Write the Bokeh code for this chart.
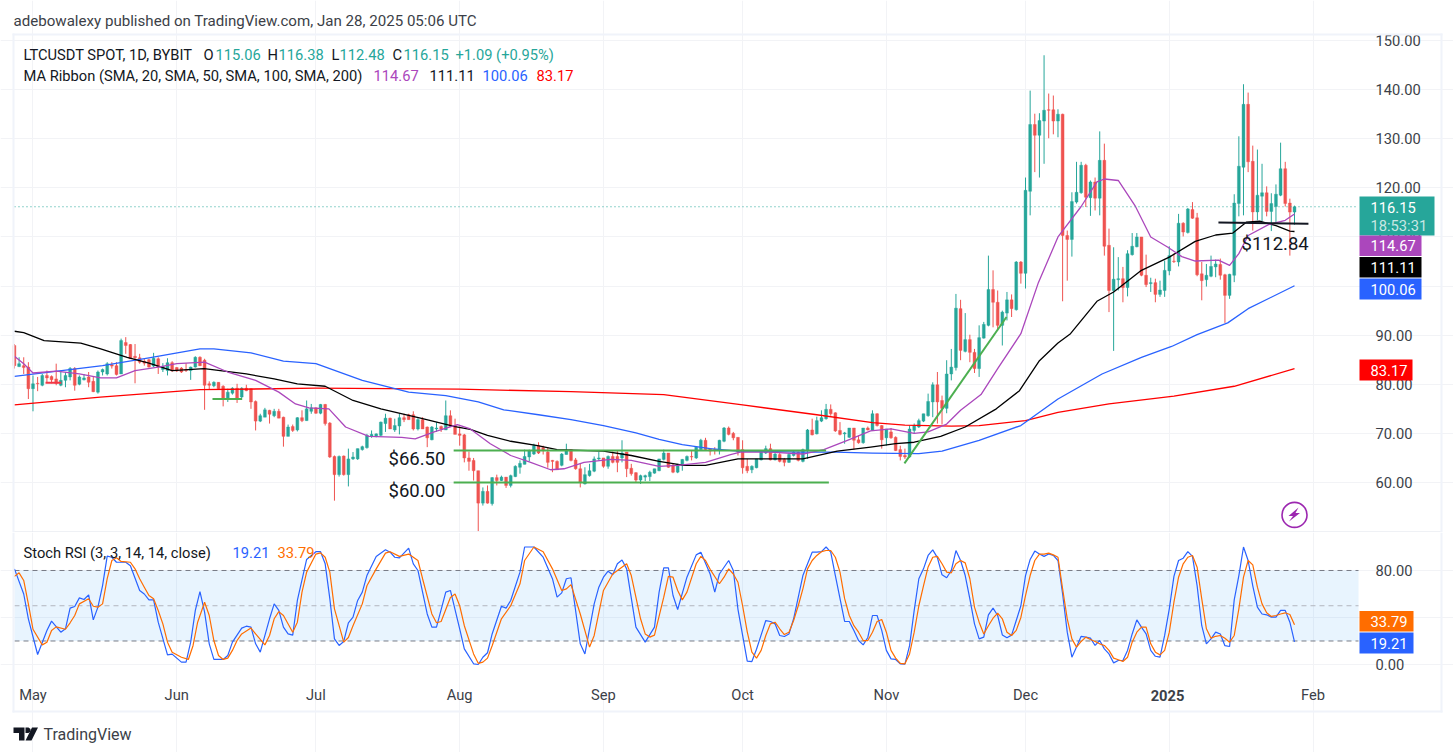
from bokeh.embed import file_html
from bokeh.layouts import column
from bokeh.models import BoxAnnotation, ColumnDataSource, FixedTicker, Label, PolyAnnotation, Range1d
from bokeh.plotting import figure
from bokeh.resources import INLINE

FIRST_DAY = -4  # days relative to 1 May 2024
opens = [
87.9,83.6,83.8,83.5,79.1,80.2,79.8,81.8,81.6,81.1,
79.8,80.8,81.5,83.2,80.0,80.9,81.5,80.6,78.4,82.5,
82.1,84.0,83.8,82.1,88.5,88.1,85.7,85.4,84.7,85.0,
83.7,85.2,83.0,82.8,84.4,83.4,83.3,83.0,82.8,83.5,
85.5,84.9,80.1,79.7,80.4,79.6,77.0,78.2,79.2,77.4,
79.2,79.1,76.5,72.5,73.3,74.7,73.6,74.5,73.3,69.4,
71.4,70.7,73.2,72.6,74.5,75.2,74.1,75.9,72.1,65.3,
61.6,65.4,61.6,64.8,64.8,66.7,67.1,69.4,69.4,69.6,
72.0,73.1,70.7,71.5,73.2,73.8,73.8,70.9,72.8,71.3,
68.7,70.9,71.4,70.7,73.6,71.6,69.9,69.7,65.0,64.5,
62.4,55.8,58.2,55.7,61.0,60.4,61.1,59.4,61.2,63.1,
63.7,65.2,65.8,67.5,67.1,66.2,64.5,64.3,63.5,65.7,
66.7,64.6,62.8,59.7,61.4,62.3,64.8,65.0,63.3,65.3,
65.3,65.0,66.2,62.9,62.0,60.5,61.1,61.2,61.9,62.4,
64.7,66.0,63.5,62.1,63.5,64.5,65.3,65.0,66.7,68.6,
66.9,66.7,66.5,68.4,71.1,70.0,69.2,66.7,63.3,62.6,
63.0,64.6,66.0,66.9,64.6,65.7,64.7,64.1,65.5,66.2,
64.3,66.5,70.7,69.9,72.5,73.0,74.9,74.2,70.6,69.9,
69.2,71.1,68.7,68.1,71.1,70.6,74.0,71.6,69.1,70.3,
69.2,66.7,65.5,65.2,70.6,71.3,72.5,73.6,76.4,79.9,
76.7,75.1,82.1,83.4,95.4,86.7,89.1,86.5,83.2,89.4,
92.0,99.3,96.7,92.0,94.5,97.2,95.2,104.9,102.6,119.3,
132.9,130.7,133.6,135.9,135.9,133.6,135.0,110.3,109.5,117.1,
119.0,124.6,118.0,121.2,117.9,125.6,108.3,99.1,101.3,101.5,
99.7,106.4,108.0,110.0,102.2,100.5,100.7,98.3,99.1,103.1,
105.1,104.9,112.8,110.9,115.6,113.9,102.5,101.3,102.0,103.9,
104.4,102.3,98.1,102.2,116.8,124.2,137.0,125.4,115.1,118.3,
119.0,115.2,116.2,118.5,123.9,116.9,115.06]
highs = [
88.2,85.5,85.5,84.5,81.8,81.5,82.1,82.8,81.8,84.2,
82.8,82.5,83.5,83.5,81.8,82.1,82.5,81.5,82.8,83.2,
84.5,84.5,84.5,89.3,89.6,88.2,88.2,86.2,85.2,85.2,
86.4,85.5,84.3,85.3,84.7,83.5,83.5,84.3,83.6,85.7,
85.7,85.2,80.6,80.6,80.4,79.8,79.1,79.4,80.1,79.4,
79.9,79.1,76.7,74.0,75.2,74.8,75.0,75.0,73.4,71.8,
71.8,73.3,74.7,76.7,76.0,75.3,76.0,76.0,72.3,65.5,
65.5,65.5,66.9,66.2,66.9,67.5,69.9,70.6,70.0,72.4,
74.0,73.2,73.0,74.0,74.0,74.0,74.5,73.1,73.3,71.4,
71.5,72.3,71.6,76.7,74.7,73.0,71.4,69.9,66.3,65.0,
62.4,59.0,59.4,61.1,61.6,61.4,61.1,61.6,63.5,64.5,
66.7,66.7,67.9,68.2,67.5,67.2,64.6,64.5,66.0,67.9,
66.7,65.0,63.8,63.1,63.8,65.3,66.2,65.0,65.5,66.3,
66.5,68.6,66.2,63.8,62.1,61.6,61.6,62.4,62.8,64.8,
66.7,66.0,63.8,63.8,64.8,65.5,66.4,67.2,68.9,69.1,
67.0,67.2,68.7,71.3,71.4,70.3,69.2,68.6,64.8,63.5,
64.8,66.2,67.5,67.9,66.0,66.0,65.0,66.0,66.5,66.3,
66.9,70.9,73.0,73.4,74.7,76.0,75.9,74.3,72.3,70.3,
71.1,71.1,69.6,71.1,71.4,74.7,74.1,71.7,70.9,71.1,
69.4,67.5,66.9,71.6,72.0,73.0,74.0,78.1,80.4,82.5,
77.7,84.9,87.2,98.4,97.2,94.5,90.1,87.2,92.0,92.7,
106.2,103.2,99.1,95.0,98.8,98.3,105.1,105.1,122.1,139.8,
135.1,135.2,147.0,139.2,138.8,136.0,135.1,111.3,119.1,125.3,
125.3,124.9,121.5,122.1,131.5,129.0,111.7,107.9,105.9,103.9,
107.3,110.8,110.8,110.0,106.4,101.7,101.5,101.1,105.2,108.1,
106.6,114.7,113.0,115.9,117.1,114.9,104.9,104.5,106.2,105.4,
105.6,102.5,102.5,118.7,130.5,141.1,139.4,128.6,127.8,124.9,
120.3,118.9,120.7,129.2,125.3,117.8,116.38]
lows = [
83.2,83.5,82.1,77.0,74.5,78.6,79.6,80.4,80.2,79.8,
79.6,79.4,80.8,78.7,79.8,80.8,79.4,78.4,78.1,81.8,
81.8,83.2,81.8,82.1,86.2,85.2,80.2,84.2,83.8,83.4,
83.5,82.1,82.5,81.8,82.5,82.5,82.3,82.5,80.9,83.4,
83.7,74.8,78.9,79.4,79.0,75.5,76.4,77.9,76.2,77.2,
78.6,75.0,70.6,72.3,73.3,72.0,73.3,73.1,67.3,69.4,
70.3,70.4,72.3,72.6,74.0,74.0,73.9,71.6,65.0,56.3,
61.2,61.4,59.2,64.6,64.6,66.5,66.9,69.1,69.2,69.4,
70.3,70.9,70.3,69.8,72.3,72.8,70.6,70.6,70.9,67.2,
68.6,70.3,70.3,70.7,71.3,69.8,67.5,64.1,62.4,60.4,
50.1,55.3,55.7,55.3,59.4,60.3,58.9,59.0,61.1,61.8,
63.7,64.3,65.6,65.8,65.7,63.0,62.1,62.6,63.3,65.7,
64.3,62.6,59.0,59.6,61.2,62.1,64.5,63.0,62.8,63.9,
62.1,64.1,61.1,61.4,60.1,59.7,60.3,60.3,61.8,62.3,
64.5,63.0,61.9,61.9,62.4,64.3,64.5,64.8,66.5,66.5,
65.5,65.7,65.7,68.2,69.6,68.6,65.5,61.8,61.9,61.9,
62.9,64.5,65.8,64.5,64.5,64.1,63.3,64.0,65.3,64.3,
64.1,64.8,69.6,69.8,72.3,72.8,73.6,70.3,69.6,67.9,
69.1,66.7,67.9,67.9,70.6,70.5,71.4,66.9,67.5,68.9,
66.4,64.5,64.8,65.0,69.9,71.1,72.3,73.4,73.3,72.0,
71.8,74.1,80.8,82.8,84.9,86.5,84.5,82.3,81.5,89.3,
91.8,91.6,91.0,87.9,93.0,93.7,95.0,100.5,99.5,114.4,
123.2,122.1,124.9,130.1,130.9,130.3,96.9,101.1,106.0,116.8,
118.8,116.1,114.3,115.4,114.4,106.2,94.7,86.8,99.1,96.7,
97.9,106.2,107.9,102.0,99.8,98.8,96.7,97.8,97.8,102.2,
104.7,104.0,110.1,110.7,113.7,102.0,97.1,99.9,101.8,101.8,
101.3,92.5,97.4,100.8,114.2,114.4,123.2,111.3,113.4,113.2,
114.2,111.2,112.7,118.3,116.2,106.2,112.48]
closes = [
83.8,84.2,83.4,79.1,80.1,80.1,81.8,81.3,80.9,80.2,
80.8,81.8,83.2,79.8,81.5,81.3,80.4,78.5,82.5,83.0,
84.2,83.7,82.0,88.9,87.9,85.2,85.4,84.5,84.3,83.5,
85.3,83.5,83.6,84.4,82.8,82.7,82.5,82.8,83.5,85.5,
83.8,79.8,79.8,80.4,79.1,76.9,78.4,79.2,77.2,79.2,
78.7,76.4,72.5,73.6,74.8,73.9,74.5,73.1,69.4,71.3,
70.6,73.2,72.6,75.0,75.2,74.1,75.9,72.0,65.2,61.6,
65.3,61.6,64.8,65.2,66.9,67.3,69.6,69.8,69.9,72.3,
73.1,70.9,71.6,73.2,72.8,72.8,70.9,72.8,70.9,69.1,
71.3,71.1,70.9,73.6,71.4,69.8,69.6,65.0,64.3,62.4,
55.8,58.2,55.8,61.0,60.4,61.1,59.4,61.4,63.3,63.9,
65.3,66.5,67.5,66.0,66.5,64.1,64.3,62.6,65.8,66.5,
64.5,62.8,60.1,61.6,62.4,64.8,65.0,63.3,65.3,64.1,
64.1,66.0,62.8,61.8,60.5,61.4,61.4,62.1,62.8,64.8,
66.0,63.1,62.1,63.7,64.7,65.3,65.2,67.2,68.6,66.7,
66.4,66.5,68.6,71.1,69.8,69.1,66.2,63.0,62.4,63.3,
64.8,66.2,66.9,64.6,65.8,64.3,64.1,65.7,66.2,64.5,
66.7,70.7,69.7,72.6,73.2,74.9,74.0,70.5,69.8,70.1,
71.1,68.6,68.1,71.1,70.7,74.0,71.6,68.7,70.9,69.1,
66.5,65.3,65.2,70.9,71.6,72.6,74.0,76.5,79.9,76.4,
75.1,82.1,83.5,95.5,86.9,89.1,86.5,83.2,89.5,92.2,
99.3,96.7,92.0,94.7,97.2,95.4,104.9,102.6,119.5,132.9,
130.7,133.7,135.8,135.8,133.6,135.0,110.3,109.5,117.2,119.1,
124.6,118.1,121.2,117.9,125.6,108.1,99.1,101.4,101.5,99.7,
106.6,108.1,110.0,102.2,100.3,100.7,98.3,99.2,103.2,106.2,
105.0,112.8,111.0,115.7,113.8,102.3,101.1,102.2,104.0,104.5,
102.2,98.1,102.4,116.9,124.4,137.0,125.3,115.1,118.5,119.0,
115.2,116.8,118.7,123.9,116.8,115.06,116.15]

sma20 = [(-4,85.7),(-2,84.2),(0,82.3),(5,82.7),(10,82.1),(14.6,81.3),(18,81.3),(22,82.8),(27,83.5),(31,84.2),(37,84.5),(42,82.5),(48,80.8),(53,78.4),(56.6,76),(59.5,75.2),(63.8,75),(67.4,71.3),(72.4,69.4),(79.5,69.2),(82.4,68.9),(86.5,70.3),(91.5,71.8),(94.3,70.9),(98.6,67.9),(103,65.5),(107.3,64.1),(111.6,62.6),(114.5,62.8),(118.8,64.1),(124.6,64.7),(129,64.5),(135,63.3),(139,63.5),(145,64.1),(150.4,65.7),(152.5,66.2),(159,66.2),(166,65.8),(170.5,66.7),(175.6,68.6),(180.6,70.5),(185,70.9),(190,70),(193,70.3),(197,71.9),(200,74.7),(204.4,77.9),(208,83.2),(213,90.3),(216.7,100.5),(221,110),(226,116.2),(229.4,121.2),(231,121.8),(234,121.5),(237.6,116.4),(241,110),(244.7,107.9),(247.7,106),(250.6,105.1),(255.6,105.3),(258,104.2),(260,106.6),(262,110.3),(266.4,112.5),(270,113.4),(272,114.67)]
sma50 = [(-4,90.8),(-2,90.5),(2.4,88.9),(10.3,88.4),(14.6,87.2),(20.3,85.5),(25,84.3),(30,82.8),(36.9,83.2),(46,82.1),(52,81.1),(57,80.1),(63,79.6),(69,76.7),(75,75),(84,73),(91,71.4),(94.3,70.8),(98,69.6),(103,68.4),(108.8,67.5),(113,66.7),(123,66.4),(129,65.5),(135,64.3),(140.4,63.5),(145,63.5),(152,64.8),(157.7,64.8),(166,64.8),(173.4,66.4),(180.6,67.2),(186,67.9),(190,68.2),(195.7,69.4),(201,71.3),(207.7,75),(212.7,78.7),(217,84.8),(221,88.4),(223.7,90.3),(229.4,96.9),(233,98.8),(239,103.2),(245,105.9),(250.6,109.1),(255,110.4),(258.7,110.8),(261.6,113),(264.5,113.2),(268,112.3),(271,111.2),(272,111.11)]
sma100 = [(-4,81.6),(15,83.8),(25,85.4),(36,87.2),(39,87.2),(47,86.4),(54,84.7),(61,84.2),(71,80.8),(81,78.4),(89,77.7),(96,76.4),(101.5,74.8),(109,73.8),(116,72.8),(123,71.6),(130,70.1),(135,68.8),(140,67.7),(146,66.9),(152,66.4),(166,66.2),(173,66.2),(181,66),(191,65.9),(196,66.4),(204,68.6),(213,71.6),(221,77),(230.5,82.1),(239,85.5),(245.5,87.7),(251,90.1),(257.6,92.5),(262,95.4),(272,100.06)]
sma200 = [(-4,75.8),(14.5,77.4),(36,78.9),(61,79.2),(92,79.0),(116,78.5),(136,77.9),(153,75.8),(169,73.8),(181,72.2),(188,71.7),(198,71.5),(204,71.6),(214,72.6),(221,74.3),(232,76),(246,77.6),(259,79.6),(272,83.17)]

stoch_k = [(-4,81.4),(-2,60),(-1,38.9),(1,8.5),(3,29),(4,36.9),(6,27.5),(7,30.4),(8,48),(9,49.4),(10,56.7),(11,55.3),(12,59.3),(13,38),(14,48.8),(15,67.2),(16,92.2),(17,91.3),(18,87),(20,87),(21,84),(23,63),(24,60),(25,55),(26,55),(27,36),(29,8.2),(30,8.8),(32,2),(33,2),(34,19),(35,46),(36,62),(37,44.5),(38,17.6),(39,4.3),(41,4.3),(42,7.7),(43,19),(45,31),(46,32.6),(47,31.8),(48,17.6),(49,10.5),(51,38.9),(52,51.6),(53,46),(54,31.8),(55,26),(56,25),(57,54.5),(59,89.4),(61,96),(62,96),(63,85.7),(64,56),(65,21.8),(66,16.2),(67,19.6),(68,35.5),(69,40.3),(70,54.5),(71,61.6),(72,75.7),(74,92),(76,97.6),(77,95.6),(78,91.3),(79,90.8),(81,99),(82,85.7),(83,80),(85,43),(86,31.8),(87,31.8),(89,61.6),(90,63),(92,30.4),(93,13.3),(95,0.6),(96,0),(97,6.2),(98,10),(99,26),(101,49.6),(102,48),(103,54.5),(105,78.6),(106,100),(108,100),(110,91.3),(112,73),(113,57.3),(114,61),(115,73),(116,73.8),(118,17.6),(119,9),(121,51.6),(122,65.8),(123,74.3),(124,79.4),(125,76.3),(126,85.7),(127,89),(128,81.4),(130,31.8),(132,19),(134,31.8),(135,61.6),(136,82.3),(137,82.3),(138,58.7),(139,46.8),(141,74.3),(143,93.3),(144,95.6),(146,77),(147,61.6),(148,77),(150,88.5),(151,80),(152,47),(154,2.8),(155,2.5),(156,13),(158,37.4),(159,36.6),(160,34.6),(161,24.7),(162,23.8),(163,26),(164,38.9),(166,75.7),(168,95.6),(169,95.6),(170,96),(171,100),(172,95.6),(173,75.7),(175,36.6),(176,36.6),(177,29),(178,20.4),(179,16.7),(180,23),(181,41.7),(182,41.7),(183,29),(184,12),(185,4.8),(186,4.3),(187,0.6),(188,0.3),(189,16),(190,46),(191,73),(192,81.4),(193,92.8),(194,97.6),(195,91),(196,76.3),(197,73.8),(198,80),(199,97),(200,88.5),(201,75.7),(202,55.9),(203,34.6),(204,21.8),(205,23.3),(206,42.3),(207,48),(208,41.7),(209,25.2),(210,22.7),(211,25),(212,37.4),(213,50),(214,75.7),(215,89.4),(216,96.5),(217,94),(218,92),(219,94),(220,92.8),(221,88.5),(222,60),(223,27.5),(224,6.2),(225,14.8),(226,24),(227,23.3),(228,22.4),(229,16.2),(230,20.4),(231,13.3),(232,9),(233,1.4),(234,3.4),(235,3.4),(236,12),(237,26),(238,38),(239,31.8),(240,26),(241,12),(242,7),(243,6.2),(244,24.7),(245,47.4),(246,75),(247,88.5),(248,90.5),(249,96),(250,92),(251,67),(252,33),(253,17.6),(254,21.8),(255,27.5),(256,26),(257,16),(258,15.3),(259,55),(260,75.7),(261,100),(262,88.5),(263,67),(264,48.8),(265,43),(266,42.3),(267,40.3),(268,40.3),(269,46),(270,46),(271,36),(272,19.21)]
stoch_d = [(-4,75),(-3,78),(-2,71.5),(-1,51.6),(0,30),(2,16.7),(3,19),(4,29),(5,32),(7,30),(8,35.5),(9,41.7),(10,51.6),(12,56),(13,49.6),(14,48.8),(15,51.6),(16,73),(17,88.5),(18,90.8),(19,87.7),(21,87),(22,81.4),(23,73),(24,65.8),(25,58.7),(26,56),(27,46),(28,34.6),(29,19),(30,10.5),(32,6.2),(33.5,4.3),(34.5,16),(35.5,36),(37,53),(38,41.7),(39,20.4),(40,7.7),(41,4.3),(42,5.4),(43,12),(44,20.4),(45,26),(47,31),(48,26),(50,16.7),(51,24.7),(52,38.9),(53,45),(54,41.7),(56,27.5),(57,36),(58,61.6),(59,78.6),(61,94),(62,95),(63,91.3),(64,78.6),(65,47.4),(67,19),(68,23),(69,33),(71,51.6),(72,67),(74,81.4),(76,94.8),(77,96),(79,92),(81,94),(83,88.5),(84,73),(86,43),(87,35.5),(88,36.6),(90,57),(91,60),(92,50),(93,33),(95,9),(96,1),(97,2),(98,5.4),(99,16),(101,38.9),(103,50),(105,68.7),(106,88.5),(108,100),(110,96),(112,81.4),(114,63),(115,64.4),(116,68),(118,43),(120,14.8),(121,24.7),(123,63),(125,77),(128,85.7),(129,75.7),(131,38.9),(132,26),(133,23.3),(134,25),(136,57.3),(137,75),(138,74.3),(139,63),(140,55),(141,61.6),(143,85.7),(144,92),(145,88.5),(146,81),(148,68.7),(149,74.3),(150,81.4),(151,77),(152,70),(153,50),(154,27.8),(155,10.5),(156,5.4),(157,12),(158,24.7),(159,34.6),(160,36),(161,30.4),(162,25.5),(163,27.5),(164,37.4),(165,50),(166,64.4),(167,81.4),(168,88.5),(169,92.8),(170,96),(171,97),(172,97),(173,91.3),(174,78.6),(175,56),(176,41.7),(177,33),(178,27.5),(179,20.4),(180,20.4),(181,27.5),(182,36.6),(183,38.3),(184,27.5),(185,12),(186,5.4),(187,1),(188,0.6),(189,9),(190,27.5),(191,50),(192,67),(193,83),(194,91.3),(195,92),(196,85.7),(197,78.6),(198,78),(199,85.7),(200,88.5),(201,86.5),(202,73),(203,48.8),(204,36),(205,26),(206,33),(207,39.4),(208,43.7),(209,38.9),(210,27.5),(211,24.7),(212,29),(213,40),(214,58.7),(215,75.7),(216,88.5),(217,94),(218,94),(219,94.8),(220,93.3),(221,91.3),(222,64.4),(223,38.9),(224,21.8),(225,14.8),(226,19.6),(227,23.3),(228,21.3),(229,19.6),(230,17.6),(231,16.2),(232,12),(233,5.4),(234,4),(235,2.6),(236,6.2),(237,19),(238,27.5),(239,31.8),(240,31.8),(241,17.6),(242,10.5),(243,8.2),(244,12),(245,27.5),(246,53),(247,74.3),(248,85.7),(249,91.3),(250,92.8),(251,82.8),(252,55.9),(253,30.4),(254,22.4),(255,24),(256,24.7),(257,22.4),(258,19),(259,24.7),(260,47.4),(261,74.3),(262,88.5),(263,84.8),(264,65.8),(265,51.6),(266,44),(267,40.9),(268,41.7),(269,43),(270,44),(271,42.6),(272,33.79)]

month_days = [0, 31, 61, 92, 123, 153, 184, 214, 245, 276]
month_labels = ["May", "Jun", "Jul", "Aug", "Sep", "Oct", "Nov", "Dec", "2025", "Feb"]
price_ticks = [60, 70, 80, 90, 100, 110, 120, 130, 140, 150]
rsi_ticks = [0, 40, 80]

support_lines = [([90.7, 171.0], [66.5, 66.5]), ([90.7, 171.6], [60.0, 60.0]), ([187.9, 209.9], [63.9, 93.7]), ([38.7, 45.1], [77.0, 77.0])]
red_line = ([2.7, 6.1], [80.3, 80.3])
black_line = ([255.6, 275.0], [112.95, 112.7])

UP, DOWN = "#26A69A", "#EF5350"
PURPLE, BLACK, BLUE, RED = "#AB47BC", "#000000", "#2962FF", "#FF0000"
ORANGE = "#FF6D00"
FONT = "Roboto"
TXT = "14.7px"
BORDER = "#F0F3FA"
X_FULL = (-7.007, 306.28)   # the plot frame spans the whole canvas so that header and tags can draw outside the panes
X_PANE = (-3.99, 285.8)

days = list(range(FIRST_DAY, FIRST_DAY + len(opens)))
colors = [UP if c >= o else DOWN for o, c in zip(opens, closes)]
candles = ColumnDataSource(dict(day=days, o=opens, h=highs, l=lows, c=closes, color=colors,
                                top=[max(o, c) for o, c in zip(opens, closes)],
                                bottom=[min(o, c) for o, c in zip(opens, closes)]))


def base_fig(height, y_range, y_pane, yticks):
    f = figure(width=1453, height=height, output_backend="svg", toolbar_location=None,
               x_range=Range1d(*X_FULL), y_range=Range1d(*y_range), y_axis_location="right",
               min_border_left=0, min_border_right=0, min_border_top=0, min_border_bottom=0,
               background_fill_color="white", border_fill_color="white", outline_line_color=None)
    f.xaxis.ticker = FixedTicker(ticks=month_days)
    f.xaxis.major_label_overrides = dict(zip(month_days, ["" if m == "2025" else m for m in month_labels]))
    f.yaxis.ticker = FixedTicker(ticks=yticks)
    f.yaxis.fixed_location = X_PANE[1]
    f.xaxis.fixed_location = y_pane[0]
    for ax in list(f.xaxis) + list(f.yaxis):
        ax.axis_line_color = None
        ax.major_tick_line_color = None
        ax.minor_tick_line_color = None
        ax.major_label_text_font = FONT
        ax.major_label_text_font_size = TXT
        ax.major_label_text_color = "#3C3F48"
    f.yaxis.major_label_standoff = 11
    f.yaxis.major_label_overrides = {t: f"{t:.2f}" for t in yticks}
    f.xgrid.grid_line_color = "#F2F3F6"
    f.ygrid.grid_line_color = "#F2F3F6"
    f.xgrid.ticker = FixedTicker(ticks=month_days)
    f.ygrid.ticker = FixedTicker(ticks=yticks)
    f.xgrid.bounds = y_pane
    f.ygrid.bounds = X_PANE
    return f


def rect(f, offset, l, r, t, b, color, alpha=1.0):
    f.add_layout(BoxAnnotation(left=l, right=r, top=t - offset, bottom=b - offset,
                               left_units="canvas", right_units="canvas", top_units="canvas", bottom_units="canvas",
                               fill_color=color, fill_alpha=alpha, line_color=None))


def text(f, offset, x, y, s, color="#131722", size=TXT, align="left", alpha=1.0, style="normal"):
    f.add_layout(Label(x=x, y=y - offset, x_units="canvas", y_units="canvas", text=s, text_color=color,
                       text_font=FONT, text_font_size=size, text_baseline="middle", text_align=align,
                       text_alpha=alpha, text_font_style=style))


def poly(f, offset, xs, ys, color, alpha=1.0):
    f.add_layout(PolyAnnotation(xs=list(xs), ys=[y - offset for y in ys], xs_units="canvas", ys_units="canvas",
                                fill_color=color, fill_alpha=alpha, line_color=None))


OFF1, OFF2 = 0, 532

# ---------- price pane ----------
p = base_fig(532, (49.82, 158.15), (50.0, 151.0), price_ticks)
p.xaxis.visible = False
p.segment("day", "h", "day", "l", source=candles, color="color", line_width=1)
p.vbar(x="day", top="top", bottom="bottom", width=0.62, source=candles, fill_color="color", line_color="color", line_width=0.4)
for series, col in [(sma200, RED), (sma100, BLUE), (sma50, BLACK), (sma20, PURPLE)]:
    p.line([d for d, _ in series], [v for _, v in series], line_color=col, line_width=1.3, line_join="round")
p.line(list(X_PANE), [closes[-1], closes[-1]], line_color=UP, line_width=1, line_dash=[1, 3])
for xs, ys in support_lines:
    p.line(xs, ys, line_color="#4CAF50", line_width=2)
p.line(*red_line, line_color="#F23645", line_width=2)
p.line(*black_line, line_color="#131722", line_width=2)
p.scatter(x=[272], y=[53.4], size=25, marker="circle", fill_alpha=0, line_color="#9C27B0", line_width=1.6)
poly(p, OFF1, [1298, 1288, 1292.5, 1288.5, 1299.5, 1295], [507, 515.5, 515.5, 521, 512.5, 512.5], "#9C27B0")

# outer frame, pane separator
rect(p, OFF1, 12, 1442, 33, 35, BORDER)
rect(p, OFF1, 12, 14, 33, 532, BORDER)
rect(p, OFF1, 1440, 1442, 33, 532, BORDER)
rect(p, OFF1, 14, 1440, 531, 532, "#E0E3EB")

text(p, OFF1, 13, 20, "adebowalexy published on TradingView.com, Jan 28, 2025 05:06 UTC", "#3C3F48", "15.1px")
text(p, OFF1, 23, 54, "LTCUSDT SPOT, 1D, BYBIT")
for x, s, col in [(203, "O", "#131722"), (215, "115.06", UP), (267, "H", "#131722"), (278, "116.38", UP), (331, "L", "#131722"),
                  (339, "112.48", UP), (392, "C", "#131722"), (403, "116.15", UP), (455, "+1.09 (+0.95%)", UP)]:
    text(p, OFF1, x, 54, s, col)
text(p, OFF1, 23, 75, "MA Ribbon (SMA, 20, SMA, 50, SMA, 100, SMA, 200)")
for x, s, col in [(373, "114.67", PURPLE), (429, "111.11", "#131722"), (482, "100.06", BLUE), (536, "83.17", "#FF0000")]:
    text(p, OFF1, x, 75, s, col)
text(p, OFF1, 388, 458, "$66.50", "#131722", "18.5px")
text(p, OFF1, 388, 490, "$60.00", "#131722", "18.5px")
text(p, OFF1, 1241, 243, "$112.84", "#131722", "18.5px")

rect(p, OFF1, 1359, 1434, 196, 235, UP)
text(p, OFF1, 1370, 207, "116.15", "white")
text(p, OFF1, 1370, 225, "18:53:31", "white", alpha=0.75)
for y0, y1, col, s in [(235, 255.5, PURPLE, "114.67"), (256.5, 277, "#000000", "111.11"), (278, 299, BLUE, "100.06"), (359, 380, "#FF0000", "83.17")]:
    right = 1421 if s != "83.17" else 1412
    rect(p, OFF1, 1359, right, y0, y1, col)
    text(p, OFF1, 1370, (y0 + y1) / 2, s, "white")

# ---------- oscillator pane ----------
q = base_fig(220, (-74.9, 112.34), (-11.06, 111.5), rsi_ticks)
q.add_layout(BoxAnnotation(left=X_PANE[0], right=X_PANE[1], bottom=20, top=80, fill_color="#2196F3", fill_alpha=0.1, line_color=None, level="underlay"))
for level_value, col in [(80, "#787B86"), (50, "#B2B5BE"), (20, "#787B86")]:
    q.line(list(X_PANE), [level_value, level_value], line_color=col, line_width=1, line_dash=[5, 4])
q.line([d for d, _ in stoch_k], [v for _, v in stoch_k], line_color=BLUE, line_width=1.2)
q.line([d for d, _ in stoch_d], [v for _, v in stoch_d], line_color=ORANGE, line_width=1.2)
q.xaxis.major_label_standoff = 3
q.yaxis.major_label_overrides = {0: "0.00", 40: "", 80: "80.00"}
text(q, OFF2, 1167, 695, "2025", "#3C3F48", align="center", style="bold")

text(q, OFF2, 23, 552, "Stoch RSI (3, 3, 14, 14, close)")
text(q, OFF2, 232, 552, "19.21", BLUE)
text(q, OFF2, 277, 552, "33.79", ORANGE)
rect(q, OFF2, 1359, 1413, 610.5, 631, ORANGE)
text(q, OFF2, 1370, 621, "33.79", "white")
rect(q, OFF2, 1359, 1413, 632, 653, BLUE)
text(q, OFF2, 1370, 642.5, "19.21", "white")

rect(q, OFF2, 12, 14, 532, 712, BORDER)
rect(q, OFF2, 1440, 1442, 532, 712, BORDER)
rect(q, OFF2, 12, 1442, 710, 712, BORDER)

poly(q, OFF2, [13, 24, 24, 18.5, 18.5, 13], [727, 727, 740, 740, 732.5, 732.5], "#131722")
poly(q, OFF2, [25, 28, 30, 30, 28, 25, 25], [727, 727, 728.5, 731, 732.5, 732.5, 727], "#131722")
poly(q, OFF2, [31.5, 37.5, 31, 25], [727, 727, 740, 740], "#131722")
text(q, OFF2, 43, 734, "TradingView", "#3C3F48", "16px")

layout = column(p, q, spacing=0)
open("out.html", "w").write(file_html(layout, INLINE))
